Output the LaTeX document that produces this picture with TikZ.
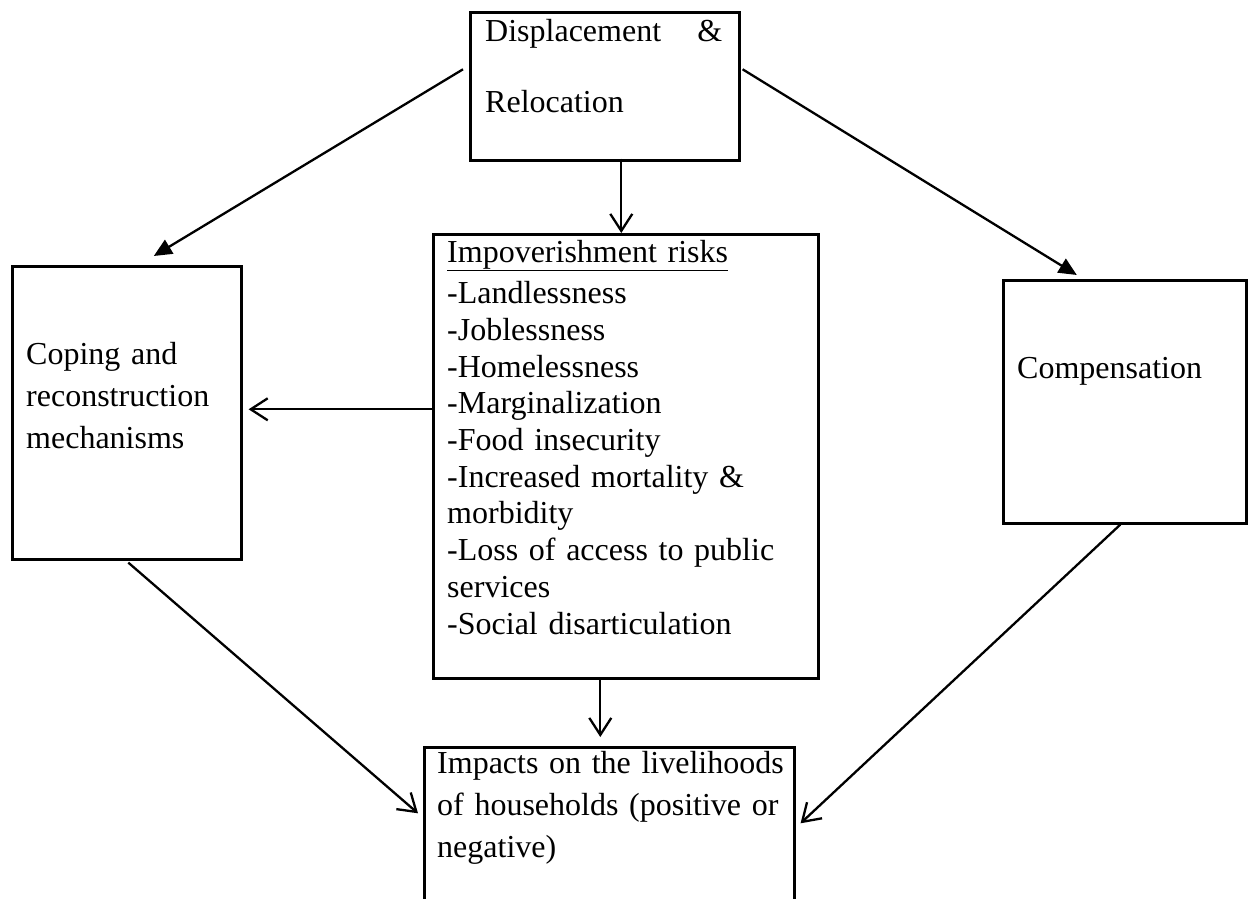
\documentclass[tikz,border=0pt]{standalone}
\usepackage{fontspec}
\setmainfont{Liberation Serif}
\usetikzlibrary{arrows.meta,positioning}

\begin{document}
\begin{tikzpicture}[x=1pt, y=-1pt,
    box/.style={rectangle, draw, line width=2.6pt, anchor=north west, inner sep=0pt},
    txt/.style={anchor=base west, inner sep=0pt, text width=360pt, align=left, font=\fontsize{32}{42}\selectfont},
    solidarrow/.style={-{Triangle[length=18pt, width=16pt]}, line width=2.3pt},
    openarrow/.style={-{Straight Barb[length=17pt, width=22pt, line width=2.3pt]}, line width=2.3pt}
]
    \useasboundingbox (0,0) rectangle (1248,899);

    % Boxes
    \node[box, minimum width=269pt, minimum height=148pt] (top) at (469,11) {};
    \node[box, minimum width=385pt, minimum height=444pt] (risks) at (432,233) {};
    \node[box, minimum width=229pt, minimum height=293pt] (coping) at (11,265) {};
    \node[box, minimum width=243pt, minimum height=243pt] (comp) at (1002,279) {};
    \node[box, minimum width=370pt, minimum height=220pt] (impact) at (423,746) {};

    % Texts
    \node[txt] (toptext) at (485,42) {\makebox[237pt]{Displacement\hfill\&}\\[29pt]Relocation};
    \node[txt, font=\fontsize{32}{36.7}\selectfont] (riskstext) at (447,262)
        {\underline{Impoverishment risks}\\[5pt]
         -Landlessness\\-Joblessness\\-Homelessness\\-Marginalization\\-Food insecurity\\
         -Increased mortality \&\\morbidity\\-Loss of access to public\\services\\-Social disarticulation};
    \node[txt] (copingtext) at (26,364) {Coping and\\reconstruction\\mechanisms};
    \node[txt] (comptext) at (1017,378) {Compensation};
    \node[txt] (impacttext) at (437,773) {Impacts on the livelihoods\\of households (positive or\\negative)};

    % Arrows
    \draw[solidarrow] ([xshift=-6pt,yshift=17pt]top.west) -- ([xshift=27pt,yshift=9pt]coping.north);
    \draw[solidarrow] ([xshift=2pt,yshift=17pt]top.east) -- ([xshift=-48pt,yshift=4pt]comp.north);
    \draw[openarrow] ([xshift=16.5pt,yshift=3pt]top.south) -- ([xshift=-4.5pt]risks.north);
    \draw[openarrow] ([yshift=47pt]risks.west) -- ([xshift=6pt,yshift=47pt]coping.east |- risks.west);
    \draw[openarrow] ([xshift=-25.5pt]risks.south) -- ([xshift=-9pt,yshift=9pt]impact.north);
    \draw[openarrow] ([xshift=1.5pt,yshift=-2pt]coping.south) -- ([xshift=-5pt,yshift=44pt]impact.west);
    \draw[openarrow] ([xshift=-4.5pt]comp.south) -- ([xshift=5pt,yshift=34pt]impact.east);

\end{tikzpicture}
\end{document}
